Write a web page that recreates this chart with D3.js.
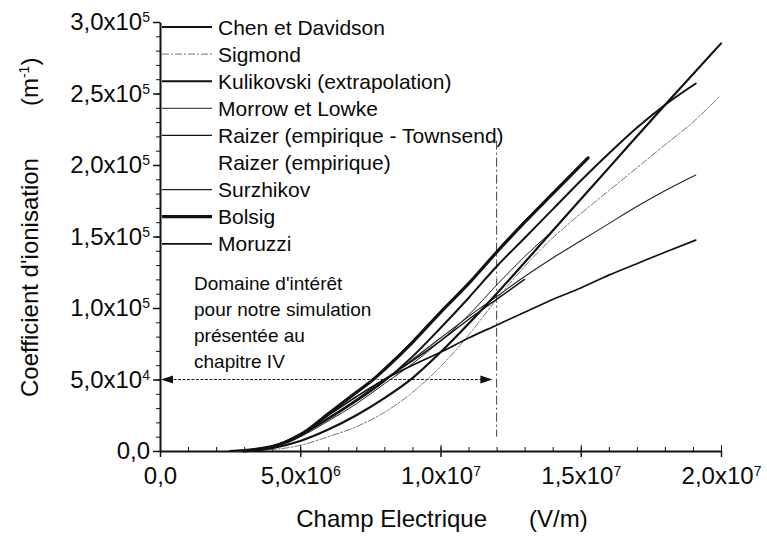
<!DOCTYPE html>
<meta charset="utf-8">
<head>
  <script src="https://d3js.org/d3.v7.min.js"></script>
  <style>
    body { margin: 0; background: #fff; }
    text { font-family: Arial, "Liberation Sans", sans-serif; fill: #0a0a0a; }
    .axis path, .axis line { stroke: #111; }
  </style>
</head>
<body>
<div id="chart"></div>
<script>

  // legend order (top to bottom)
  var categories = ["Chen et Davidson", "Sigmond", "Kulikovski (extrapolation)", "Morrow et Lowke",
    "Raizer (empirique - Townsend)", "Raizer (empirique)", "Surzhikov", "Bolsig", "Moruzzi"];

  // champ E in 1e6 V/m, coefficient alpha in 1e4 m-1
  var chenE = [3, 4, 5, 6, 7, 8, 9, 10, 11, 12, 14, 16, 18, 20];
  var chenA = [0, 0.2, 0.7, 1.5, 2.5, 3.7, 5.1, 6.9, 8.9, 11.0, 15.4, 19.8, 24.2, 28.5];

  var sigmondE = [2.5, 4, 5, 6, 7, 8, 9, 10, 11, 12, 13, 14, 15, 16, 17, 18, 19, 19.9];
  var sigmondA = [0, 0.1, 0.4, 1.0, 1.7, 2.7, 4.1, 5.9, 8.1, 10.6, 12.9, 14.9, 16.6, 18.2, 19.8, 21.4, 23.0, 24.7];

  var kulikE = [2.5, 4, 5, 6, 7, 8, 9, 10, 11, 12, 13, 14, 15, 16, 17, 18, 19.1];
  var kulikA = [0, 0.35, 1.1, 2.3, 3.5, 4.9, 6.6, 8.6, 10.7, 12.9, 14.9, 16.9, 18.9, 20.8, 22.6, 24.2, 25.7];

  var morrowE = [3, 4, 5, 6, 7, 8, 9, 10, 11, 12, 13, 14];
  var morrowA = [0, 0.3, 1.0, 2.1, 3.3, 4.7, 6.1, 7.7, 9.5, 11.6, 13.6, 15.4];

  var raizerTE = [3, 4, 5, 6, 7, 8, 9, 10, 11, 12, 13];
  var raizerTA = [0, 0.3, 1.1, 2.3, 3.6, 5.0, 6.3, 7.7, 9.2, 10.6, 12.0];

  var raizerE = [5, 6, 7, 8, 9, 10, 11, 12];
  var raizerA = [1.2, 2.5, 3.9, 5.4, 7.0, 8.7, 10.4, 12.1];

  var surzE = [3, 4, 5, 6, 7, 8, 9, 10, 11, 12, 13, 14, 15, 16, 17, 18, 19.1];
  var surzA = [0, 0.3, 1.1, 2.2, 3.5, 4.9, 6.4, 7.9, 9.4, 10.8, 12.2, 13.5, 14.7, 15.9, 17.1, 18.2, 19.3];

  var bolsigE = [3, 4, 5, 6, 7, 7.6, 8, 9, 10, 11, 12, 13, 14, 15.26];
  var bolsigA = [0, 0.3, 1.1, 2.6, 4.1, 5.0, 5.7, 7.6, 9.7, 11.7, 13.9, 16.0, 18.0, 20.5];

  var moruzziE = [3, 4, 5, 6, 7, 8, 9, 10, 11, 12, 13, 14, 15, 16, 17, 18, 19.1];
  var moruzziA = [0, 0.3, 1.2, 2.5, 3.8, 5.0, 6.0, 6.9, 7.9, 8.8, 9.7, 10.6, 11.4, 12.3, 13.1, 13.9, 14.75];

  // tick labels
  var xTickValues = [0, 5, 10, 15, 20];
  var xTickMant = ["0,0", "5,0x10", "1,0x10", "1,5x10", "2,0x10"];
  var xTickExp = ["", "6", "7", "7", "7"];
  var yTickValues = [0, 5, 10, 15, 20, 25, 30];
  var yTickMant = ["0,0", "5,0x10", "1,0x10", "1,5x10", "2,0x10", "2,5x10", "3,0x10"];
  var yTickExp = ["", "4", "5", "5", "5", "5", "5"];

  // annotation
  var domainLimit = 12;      // 1,2x10^7 V/m
  var arrowLevel = 5;        // 5,0x10^4 m-1
  var noteLines = ["Domaine d'intérêt", "pour notre simulation", "présentée au", "chapitre IV"];

  var series = [
    { key: "Chen et Davidson", E: chenE, A: chenA },
    { key: "Sigmond", E: sigmondE, A: sigmondA },
    { key: "Kulikovski (extrapolation)", E: kulikE, A: kulikA },
    { key: "Morrow et Lowke", E: morrowE, A: morrowA },
    { key: "Raizer (empirique - Townsend)", E: raizerTE, A: raizerTA },
    { key: "Raizer (empirique)", E: raizerE, A: raizerA },
    { key: "Surzhikov", E: surzE, A: surzA },
    { key: "Bolsig", E: bolsigE, A: bolsigA },
    { key: "Moruzzi", E: moruzziE, A: moruzziA }
  ];

  // line styles per curve
  var styles = {
    "Chen et Davidson": { color: "#111", width: 2.2, dash: null },
    "Sigmond": { color: "#777", width: 1, dash: "7,2,2,2" },
    "Kulikovski (extrapolation)": { color: "#111", width: 2, dash: null },
    "Morrow et Lowke": { color: "#222", width: 1, dash: null },
    "Raizer (empirique - Townsend)": { color: "#111", width: 1.4, dash: null },
    "Raizer (empirique)": { color: "#fff", width: 1, dash: null },
    "Surzhikov": { color: "#222", width: 1.1, dash: null },
    "Bolsig": { color: "#111", width: 3.2, dash: null },
    "Moruzzi": { color: "#111", width: 1.7, dash: null }
  };

  var W = 767, H = 546;
  var svg = d3.select("#chart").append("svg")
    .attr("width", W).attr("height", H);

  var x = d3.scaleLinear().domain([0, 20]).range([160, 721]);
  var y = d3.scaleLinear().domain([0, 30]).range([451, 22]);

  // --- axes ---
  // x minor ticks (inside)
  svg.append("g").attr("class", "axis")
    .attr("transform", "translate(0," + y(0) + ")")
    .call(d3.axisBottom(x).tickValues(d3.range(0, 21, 1)).tickSize(-4).tickFormat(""))
    .select(".domain").remove();
  // x major ticks, inner part
  svg.append("g").attr("class", "axis")
    .attr("transform", "translate(0," + y(0) + ")")
    .call(d3.axisBottom(x).tickValues(xTickValues).tickSize(-6).tickFormat(""))
    .select(".domain").remove();
  // x major ticks + labels
  var xAxis = svg.append("g").attr("class", "axis")
    .attr("transform", "translate(0," + y(0) + ")")
    .call(d3.axisBottom(x).tickValues(xTickValues).tickSizeInner(6).tickSizeOuter(0).tickPadding(10)
      .tickFormat(function (d, i) { return xTickMant[i]; }));
  xAxis.select(".domain").attr("stroke-width", 2);
  xAxis.selectAll(".tick line").attr("stroke-width", 1.5);
  xAxis.selectAll(".tick text")
    .attr("font-size", 24)
    .each(function (d, i) {
      if (xTickExp[i]) {
        d3.select(this).append("tspan").attr("dy", "-0.55em").attr("font-size", 14).text(xTickExp[i]);
      }
    });

  // y minor ticks
  svg.append("g").attr("class", "axis")
    .attr("transform", "translate(" + x(0) + ",0)")
    .call(d3.axisLeft(y).tickValues(d3.range(0, 31, 1)).tickSize(4).tickFormat(""))
    .select(".domain").remove();
  var yAxis = svg.append("g").attr("class", "axis")
    .attr("transform", "translate(" + x(0) + ",0)")
    .call(d3.axisLeft(y).tickValues(yTickValues).tickSizeInner(7).tickSizeOuter(0).tickPadding(3)
      .tickFormat(function (d, i) { return yTickMant[i]; }));
  yAxis.select(".domain").attr("stroke-width", 2);
  yAxis.selectAll(".tick line").attr("stroke-width", 1.5);
  yAxis.selectAll(".tick text")
    .attr("font-size", 24)
    .each(function (d, i) {
      if (yTickExp[i]) {
        d3.select(this).append("tspan").attr("dy", "-0.55em").attr("font-size", 14).text(yTickExp[i]);
      }
    });

  // axis titles
  var xt = svg.append("text")
    .attr("x", 442).attr("y", 527)
    .attr("text-anchor", "middle")
    .attr("font-size", 24);
  xt.append("tspan").text("Champ Electrique");
  xt.append("tspan").attr("dx", 42).text("(V/m)");

  var yt = svg.append("text")
    .attr("transform", "translate(38,397) rotate(-90)")
    .attr("font-size", 24);
  yt.append("tspan").text("Coefficient d'ionisation");
  yt.append("tspan").attr("dx", 52).text("(m");
  yt.append("tspan").attr("dy", -9).attr("font-size", 14).text("-1");
  yt.append("tspan").attr("dy", 9).text(")");

  // --- annotation: domain of interest ---
  svg.append("line")
    .attr("x1", x(domainLimit)).attr("x2", x(domainLimit))
    .attr("y1", y(21.7)).attr("y2", y(1.0))
    .attr("stroke", "#444").attr("stroke-width", 1)
    .attr("stroke-dasharray", "9,3,2,3");

  var ay = y(arrowLevel);
  var ax0 = x(0) + 1, ax1 = x(11.85);
  svg.append("line")
    .attr("x1", ax0 + 8).attr("x2", ax1 - 8)
    .attr("y1", ay).attr("y2", ay)
    .attr("stroke", "#222").attr("stroke-width", 1.2)
    .attr("stroke-dasharray", "3,1.5");
  svg.append("path")
    .attr("d", "M" + ax0 + "," + ay + "L" + (ax0 + 12) + "," + (ay - 4) + "L" + (ax0 + 12) + "," + (ay + 4) + "Z")
    .attr("fill", "#111");
  svg.append("path")
    .attr("d", "M" + ax1 + "," + ay + "L" + (ax1 - 12) + "," + (ay - 4) + "L" + (ax1 - 12) + "," + (ay + 4) + "Z")
    .attr("fill", "#111");

  svg.selectAll(".note")
    .data(noteLines)
    .enter().append("text")
    .attr("class", "note")
    .attr("x", 194)
    .attr("y", function (d, i) { return 290 + i * 26; })
    .attr("font-size", 19)
    .text(function (d) { return d; });

  // --- curves ---
  var line = d3.line()
    .curve(d3.curveMonotoneX)
    .x(function (d) { return x(d[0]); })
    .y(function (d) { return y(d[1]); });

  // Raizer (empirique) first so it sits below the others
  var drawOrder = ["Raizer (empirique)", "Sigmond", "Morrow et Lowke", "Surzhikov", "Raizer (empirique - Townsend)",
    "Moruzzi", "Kulikovski (extrapolation)", "Chen et Davidson", "Bolsig"];

  svg.selectAll(".curve")
    .data(drawOrder.map(function (k) { return series.find(function (s) { return s.key === k; }); }))
    .enter().append("path")
    .attr("class", "curve")
    .attr("fill", "none")
    .attr("stroke", function (d) { return styles[d.key].color; })
    .attr("stroke-width", function (d) { return styles[d.key].width; })
    .attr("stroke-dasharray", function (d) { return styles[d.key].dash; })
    .attr("stroke-linecap", "round")
    .attr("d", function (d) { return line(d.E.map(function (e, i) { return [e, d.A[i]]; })); });

  // --- legend ---
  var legend = svg.selectAll(".leg")
    .data(categories)
    .enter().append("g")
    .attr("class", "leg")
    .attr("transform", function (d, i) { return "translate(0," + (27 + i * 27.1) + ")"; });
  legend.append("line")
    .attr("x1", 162).attr("x2", 212)
    .attr("stroke", function (d) { return styles[d].color; })
    .attr("stroke-width", function (d) { return styles[d].width; })
    .attr("stroke-dasharray", function (d) { return styles[d].dash; });
  legend.append("text")
    .attr("x", 218)
    .attr("dy", "0.36em")
    .attr("font-size", 21)
    .text(function (d) { return d; });

</script>
</body>
